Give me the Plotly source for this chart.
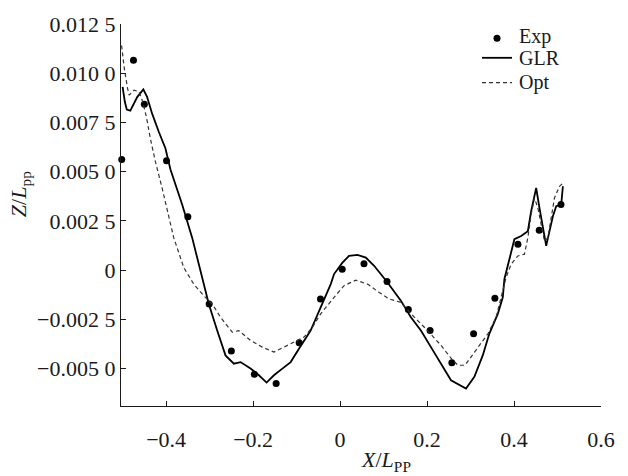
import plotly.graph_objects as go

# Measured heave profile along the hull (X/Lpp vs Z/Lpp)
exp_x = [-0.502, -0.475, -0.450, -0.399, -0.350, -0.301, -0.250, -0.197, -0.147, -0.094,
         -0.045, 0.005, 0.055, 0.108, 0.157, 0.207, 0.257, 0.307, 0.356, 0.409, 0.458, 0.508]
exp_y = [0.00562, 0.01066, 0.00843, 0.00556, 0.00271, -0.00172, -0.00411, -0.00529, -0.00576, -0.00369,
         -0.00146, 0.00005, 0.00033, -0.00058, -0.00200, -0.00307, -0.00470, -0.00323, -0.00143, 0.00131,
         0.00202, 0.00333]

# GLR computation
glr_x = [-0.5000, -0.4949, -0.4903, -0.4823, -0.4661, -0.4523, -0.4438, -0.4323, -0.4171, -0.4016,
         -0.3901, -0.3631, -0.3401, -0.3209, -0.3018, -0.2825, -0.2634, -0.2442, -0.2288, -0.2058,
         -0.1866, -0.1689, -0.1521, -0.1327, -0.1136, -0.0945, -0.0677, -0.0446, -0.0214, -0.0138,
         0.0055, 0.0207, 0.0401, 0.0592, 0.0783, 0.1092, 0.1398, 0.1629, 0.1859, 0.2090,
         0.2359, 0.2551, 0.2896, 0.3088, 0.3281, 0.3433, 0.3627, 0.3742, 0.3779, 0.3894,
         0.4009, 0.4164, 0.4318, 0.4394, 0.4509, 0.4585, 0.4664, 0.4740, 0.4816, 0.4894,
         0.4970, 0.5085, 0.5124]
glr_y = [0.00931, 0.00855, 0.00815, 0.00810, 0.00880, 0.00918, 0.00880, 0.00796, 0.00704, 0.00619,
         0.00512, 0.00333, 0.00165, -0.00004, -0.00172, -0.00307, -0.00433, -0.00475, -0.00467, -0.00500,
         -0.00534, -0.00571, -0.00534, -0.00500, -0.00467, -0.00399, -0.00307, -0.00189, -0.00071, -0.00020,
         0.00038, 0.00072, 0.00077, 0.00064, 0.00022, -0.00063, -0.00155, -0.00239, -0.00307, -0.00391,
         -0.00492, -0.00559, -0.00601, -0.00542, -0.00433, -0.00322, -0.00222, -0.00138, -0.00045, 0.00064,
         0.00157, 0.00173, 0.00198, 0.00299, 0.00417, 0.00316, 0.00215, 0.00123, 0.00198, 0.00274,
         0.00325, 0.00333, 0.00426]

# Optimised computation
opt_x = [-0.5023, -0.4961, -0.4885, -0.4850, -0.4735, -0.4620, -0.4539, -0.4454, -0.4362, -0.4247,
         -0.4092, -0.3940, -0.3825, -0.3594, -0.3364, -0.3134, -0.2940, -0.2749, -0.2479, -0.2327,
         -0.2058, -0.1788, -0.1521, -0.1290, -0.1060, -0.0829, -0.0636, -0.0445, -0.0138, 0.0092,
         0.0362, 0.0631, 0.0899, 0.1129, 0.1399, 0.1705, 0.2014, 0.2320, 0.2590, 0.2712,
         0.2873, 0.3127, 0.3403, 0.3588, 0.3703, 0.3818, 0.3933, 0.4088, 0.4240, 0.4318,
         0.4394, 0.4470, 0.4548, 0.4624, 0.4700, 0.4779, 0.4855, 0.4931, 0.5046, 0.5124]
opt_y = [0.01141, 0.01023, 0.00922, 0.00889, 0.00914, 0.00906, 0.00855, 0.00779, 0.00668, 0.00552,
         0.00417, 0.00266, 0.00165, 0.00013, -0.00071, -0.00130, -0.00172, -0.00239, -0.00315, -0.00307,
         -0.00357, -0.00391, -0.00416, -0.00391, -0.00366, -0.00340, -0.00290, -0.00222, -0.00138, -0.00079,
         -0.00051, -0.00071, -0.00113, -0.00146, -0.00164, -0.00239, -0.00307, -0.00382, -0.00458, -0.00483,
         -0.00483, -0.00408, -0.00322, -0.00239, -0.00138, -0.00037, 0.00030, 0.00072, 0.00081, 0.00165,
         0.00283, 0.00367, 0.00316, 0.00232, 0.00148, 0.00165, 0.00258, 0.00367, 0.00426, 0.00442]

x_ticks = [-0.4, -0.2, 0, 0.2, 0.4, 0.6]
x_labels = ["\u22120.4", "\u22120.2", "0", "0.2", "0.4", "0.6"]
y_ticks = [-0.005, -0.0025, 0, 0.0025, 0.005, 0.0075, 0.01, 0.0125]
y_labels = ["\u22120.005 0", "\u22120.002 5", "0", "0.002 5", "0.005 0", "0.007 5", "0.010 0", "0.012 5"]

series_names = ["Exp", "GLR", "Opt"]

FONT = "Liberation Serif, Times New Roman, serif"
INK = "#1a1a1a"

fig = go.Figure()
fig.add_trace(go.Scatter(x=exp_x, y=exp_y, mode="markers", name=series_names[0],
                         marker=dict(color="black", size=7), cliponaxis=False))
fig.add_trace(go.Scatter(x=glr_x, y=glr_y, mode="lines", name=series_names[1],
                         line=dict(color="black", width=1.8)))
fig.add_trace(go.Scatter(x=opt_x, y=opt_y, mode="lines", name=series_names[2],
                         line=dict(color="#333333", width=1.2, dash="4px,3px")))

axis_common = dict(showgrid=False, zeroline=False, showline=True, linecolor=INK, linewidth=1.3,
                   ticks="inside", tickcolor=INK, tickwidth=1.2, ticklen=5,
                   tickfont=dict(family=FONT, size=22, color=INK))

fig.update_xaxes(range=[-0.5037, 0.6], tickvals=x_ticks, ticktext=x_labels,
                 ticklabelstandoff=13, **axis_common)
fig.update_yaxes(range=[-0.0069, 0.0125], tickvals=y_ticks, ticktext=y_labels,
                 ticklabelstandoff=0, **axis_common)

fig.add_annotation(text="<i>X</i>/<i>L</i><sub>PP</sub>", xref="paper", yref="paper",
                   x=0.552, y=-0.143, showarrow=False, xanchor="center", yanchor="middle",
                   font=dict(family=FONT, size=22, color=INK))
fig.add_annotation(text="<i>Z</i>/<i>L</i><sub>pp</sub>", xref="paper", yref="paper",
                   x=-0.21, y=0.555, showarrow=False, xanchor="center", yanchor="middle",
                   textangle=-90, font=dict(family=FONT, size=22, color=INK))

# Compact key in the upper right corner: glyph + label per series
key_rows = [0.9675, 0.9115, 0.8464]
key_x0, key_x1, key_text_x = 0.7521, 0.8146, 0.826
fig.add_shape(type="circle", xref="paper", yref="paper", xsizemode="pixel", ysizemode="pixel",
              xanchor=(key_x0 + key_x1) / 2, yanchor=key_rows[0] - 0.005,
              x0=-3.5, x1=3.5, y0=-3.5, y1=3.5, fillcolor="black", line=dict(width=0))
fig.add_shape(type="line", xref="paper", yref="paper", x0=key_x0, x1=key_x1,
              y0=key_rows[1], y1=key_rows[1], line=dict(color="black", width=1.8))
fig.add_shape(type="line", xref="paper", yref="paper", x0=key_x0, x1=key_x1,
              y0=key_rows[2], y1=key_rows[2], line=dict(color="#333333", width=1.2, dash="4px,3px"))
for name, ky in zip(series_names, key_rows):
    fig.add_annotation(text=name, xref="paper", yref="paper", x=key_text_x, y=ky,
                       showarrow=False, xanchor="left", yanchor="middle",
                       font=dict(family=FONT, size=20, color=INK))

fig.update_layout(
    width=628, height=476,
    margin=dict(l=121, r=27, t=22, b=70),
    paper_bgcolor="white", plot_bgcolor="white",
    showlegend=False,
)

fig.write_html("out.html")
